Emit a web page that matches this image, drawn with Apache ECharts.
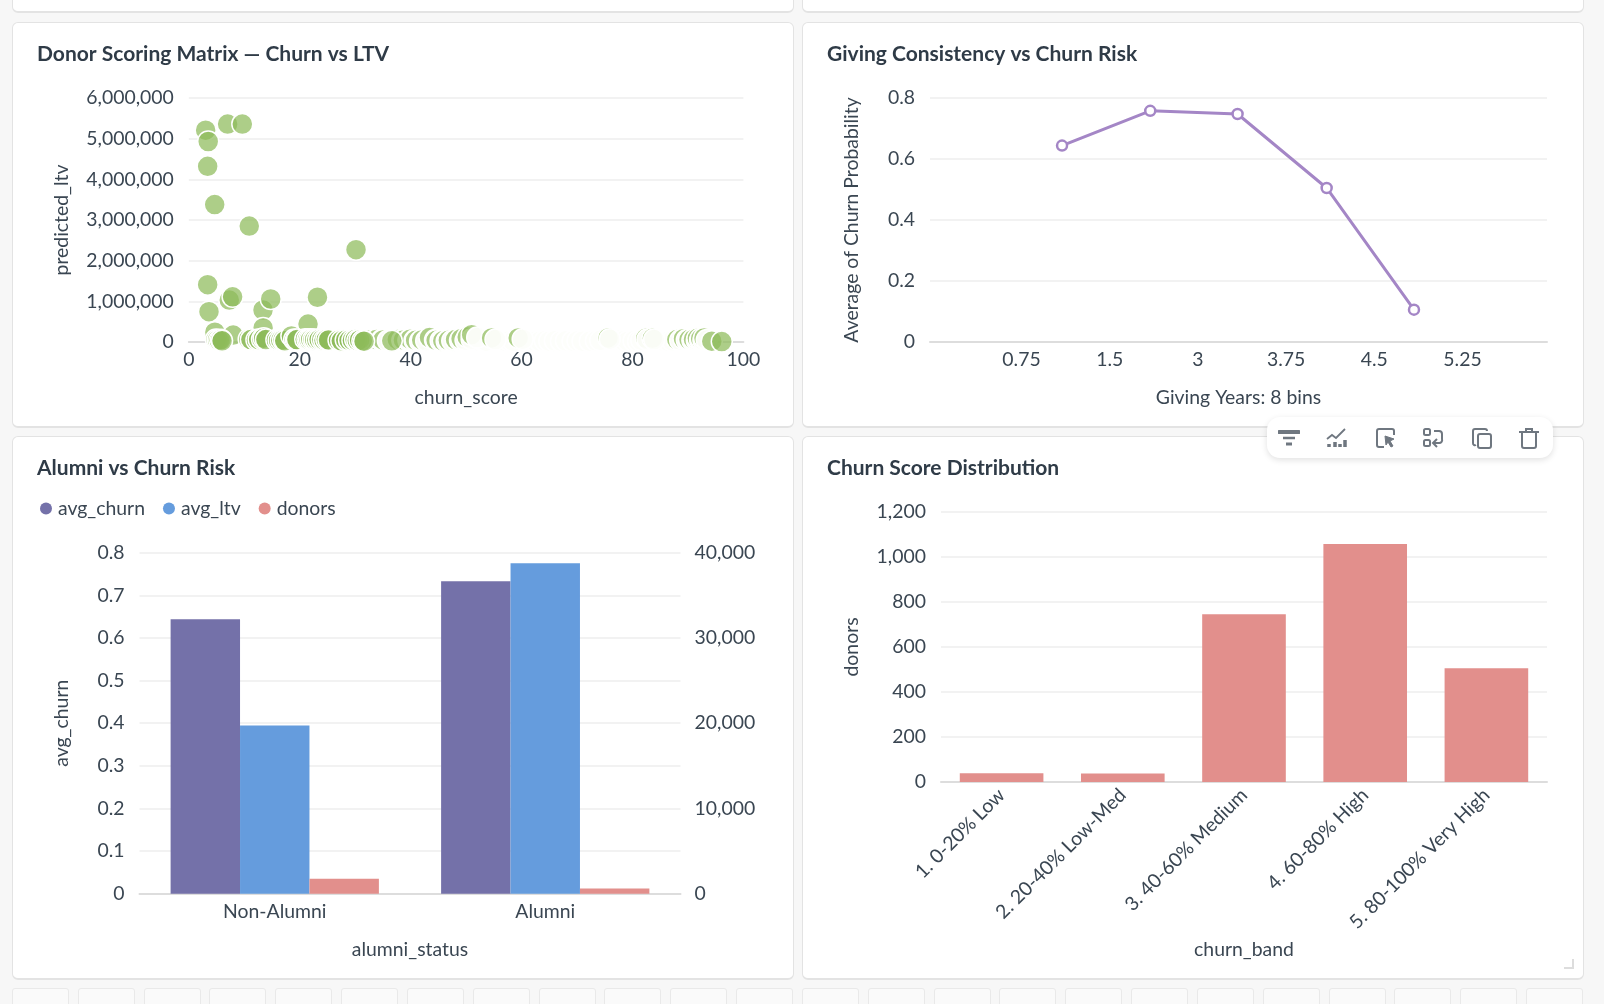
<!DOCTYPE html>
<html>
<head>
<meta charset="utf-8">
<title>Donor dashboard</title>
<script src="https://cdn.jsdelivr.net/npm/echarts@6/dist/echarts.min.js"></script>
<style>
html, body { margin: 0; width: 1604px; height: 1004px; overflow: hidden; background: #f7f7f7; }
.panel { position: absolute; box-sizing: border-box; background: #fff; border: 1px solid #e3e3e3; border-bottom-width: 2px; border-radius: 6px; }
.tile { position: absolute; top: 988px; width: 57px; height: 40px; box-sizing: border-box; border: 1px solid #e9e9e9; border-radius: 3px; background: #fafafa; }
.grip { position: absolute; left: 1564px; top: 959px; width: 10px; height: 10px; box-sizing: border-box; border-right: 2px solid #ddd; border-bottom: 2px solid #ddd; }
#toolbar { position: absolute; left: 1267px; top: 417px; width: 286px; height: 41px; background: #fff; border-radius: 13px; box-shadow: 0 2px 6px rgba(0,0,0,.12); }
#toolbar svg { position: absolute; top: 10px; width: 22px; height: 22px; fill: none; stroke: #6f7780; stroke-width: 2; }
</style>
</head>
<body>
<div class="panel" style="left:12px;top:-20px;width:782px;height:33px"></div>
<div class="panel" style="left:802px;top:-20px;width:782px;height:33px"></div>
<div class="panel" id="scatter" style="left:12px;top:22px;width:782px;height:406px"></div>
<div class="panel" id="line" style="left:802px;top:22px;width:782px;height:406px"></div>
<div class="panel" id="alumni" style="left:12px;top:436px;width:782px;height:544px"></div>
<div class="panel" id="bands" style="left:802px;top:436px;width:782px;height:544px"></div>
<div class="grip"></div>
<div id="toolbar">
	<svg style="left:11px" viewBox="0 0 22 22"><path d="M1 5h20" stroke-width="4" stroke-linecap="round"/><path d="M5 11h12" stroke-width="2.5"/><path d="M8 17h6" stroke-width="3"/></svg>
	<svg style="left:59px" viewBox="0 0 22 22"><path d="M1 12l5-4 4 3 9-9" stroke-width="1.8"/><path d="M3 17v3M9 15v5M14 17v3M19 13v7" stroke-width="3.5"/></svg>
	<svg style="left:108px" viewBox="0 0 22 22"><path d="M9 20H4a2 2 0 0 1-2-2V4a2 2 0 0 1 2-2h13a2 2 0 0 1 2 2v4" stroke-width="2"/><path d="M10 9l9 3-4 2 3 5-2 1-3-5-2 3z" fill="#6f7780" stroke-width="1"/></svg>
	<svg style="left:155px" viewBox="0 0 22 22"><rect x="2" y="2" width="6" height="6" rx="1.5"/><rect x="2" y="13" width="6" height="6" rx="1.5"/><path d="M12 4h5a3 3 0 0 1 3 3v5a3 3 0 0 1-3 4h-5"/><path d="M15 12l-4 4 4 4"/></svg>
	<svg style="left:204px" viewBox="0 0 22 22"><path d="M5 18a2 2 0 0 1-3-2V4a2 2 0 0 1 2-2h10a2 2 0 0 1 2 2"/><rect x="7" y="7" width="13" height="14" rx="2"/></svg>
	<svg style="left:251px" viewBox="0 0 22 22"><path d="M1 5h20M8 5V2h6v3"/><path d="M4 5v14a2 2 0 0 0 2 2h10a2 2 0 0 0 2-2V5"/></svg>
</div>
<script>
// scatter, back to front
var paleFarPoints = [[50.6,60000],[52.3,30000],[52.9,40000],[53.6,20000],[55.9,40000],[56.3,30000],[57,20000],[57.8,30000],[58.5,20000],[61,40000],[61.7,30000],[62.4,20000],[63.3,20000],[64.2,30000],[65,20000],[66,30000],[67.1,20000],[68,30000],[69.2,20000],[70.1,30000],[71,20000],[72.3,20000],[73.4,30000],[74.2,40000],[76.8,40000],[77.6,50000],[78.4,30000],[79.2,20000],[80.2,30000],[81,20000],[81.6,40000],[84.8,30000],[85.6,20000],[86.4,20000],[87.2,30000]];
// green then pale, in turn, so each pale point leaves a crescent of the green one
var crescentPoints = [
	[32.6,50000],[33.6,40000],[33.8,60000],[34.7,40000],[35,50000],[35.9,30000],[37.6,60000],[38.5,40000],
	[38.7,50000],[39.6,40000],[39.9,70000],[40.7,40000],[40.9,40000],[41.7,20000],[42,50000],[42.8,30000],
	[43.4,110000],[44.4,50000],[44.6,40000],[45.4,30000],[45.8,30000],[46.5,20000],[46.8,40000],[47.5,30000],
	[48.1,60000],[48.9,40000],[49.1,80000],[49.9,40000],[50.2,120000],[51,70000],[51,180000],[52,110000],
	[54.6,100000],[55.3,60000],[59.4,100000],[60.2,70000],[75.6,100000],[75.9,70000],[82.4,90000],[82.7,60000],
	[83.6,90000],[83.9,60000],[88,60000],[88.6,40000],[89.2,80000],[89.8,50000],[90.2,60000],[90.8,40000],
	[91,70000],[91.6,40000],[91.7,90000],[92.2,50000],[92.3,80000],[92.8,40000],[92.9,100000],[93.4,50000]
];
var frontPoints = [[3.04,5210000],[3.5,4930000],[7,5360000],[9.65,5360000],[3.4,4320000],[4.67,3380000],[10.9,2850000],[30.15,2270000],[3.4,1410000],[3.64,745000],[7.3,1030000],[7.9,1110000],[13.38,787000],[14.77,1057000],[23.2,1100000],[21.5,440000],[13.4,344000],[4.7,240000],[8,170000],[4.9,60000],[5.2,50000],[5.5,40000],[5.8,55000],[6,30000],[10.8,70000],[11.2,60000],[12.2,50000],[12.6,60000],[13.2,70000],[13.5,90000],[13.9,60000],[15.8,50000],[16.2,40000],[16.6,45000],[17,50000],[17.3,30000],[18.5,150000],[19,60000],[19.3,50000],[19.5,60000],[21,70000],[21.4,60000],[21.7,55000],[22,65000],[22.4,60000],[22.7,55000],[23.1,50000],[23.5,60000],[24,55000],[24.4,45000],[24.8,60000],[25.2,50000],[27,40000],[27.5,30000],[28.3,50000],[28.9,40000],[29.5,45000],[30,60000],[30.4,35000],[30.8,50000],[31.3,30000],[31.6,20000],[36.6,30000],[94.3,20000],[96.1,10000]];

// giving line
var givingBinPositions = [1.46, 2.46, 3.45, 4.46, 5.45];
var avgChurnProbability = [0.644, 0.758, 0.7475, 0.505, 0.106];
var givingTickPositions = [1, 2, 3, 4, 5, 6];
var givingTickLabels = ['0.75', '1.5', '3', '3.75', '4.5', '5.25'];

// alumni bars
var alumniStatus = ['Non-Alumni', 'Alumni'];
var avgChurn = [0.6436, 0.733];
var avgLtv = [19720, 38750];
var donorsByStatus = [1760, 600];

// churn bands
var churnBands = ['1. 0-20% Low', '2. 20-40% Low-Med', '3. 40-60% Medium', '4. 60-80% High', '5. 80-100% Very High'];
var donorsByBand = [39, 38, 746, 1058, 506];

var FONT = 'Lato';
var TEXT = '#3a4652';
var TICK_SIZE = 19.4;
var GREEN = 'rgba(141,187,90,0.72)';
var PALE = 'rgba(253,254,251,0.96)';

function thousands(v) {
	return echarts.format.addCommas(v);
}

function title(text) {
	return { text: text, left: 24, top: 21, padding: 0, textStyle: { fontFamily: FONT, fontSize: 21, fontWeight: 'bold', color: '#2f3b47' } };
}

function leftLabels(formatter) {
	return { fontFamily: FONT, fontSize: TICK_SIZE, color: TEXT, margin: 15, formatter: formatter };
}

function valueAxis(name, gap, extra) {
	var axis = {
		type: 'value',
		name: name,
		nameLocation: 'middle',
		nameGap: gap,
		nameMoveOverlap: false,
		nameTextStyle: { fontFamily: FONT, fontSize: TICK_SIZE, color: TEXT },
		axisLabel: leftLabels(),
		axisLine: { show: false },
		axisTick: { show: false },
		splitLine: { lineStyle: { color: '#eeeeee', width: 1.5 } }
	};
	for (var k in extra) { axis[k] = extra[k]; }
	return axis;
}

function bottomAxis(base, name, gap, extra) {
	var axis = {
		type: base,
		name: name,
		nameLocation: 'middle',
		nameGap: gap,
		nameMoveOverlap: false,
		nameTextStyle: { fontFamily: FONT, fontSize: TICK_SIZE, color: TEXT },
		axisLabel: { fontFamily: FONT, fontSize: TICK_SIZE, color: TEXT, margin: 8 },
		axisLine: { show: true, lineStyle: { color: '#dddddd', width: 2 } },
		axisTick: { show: false },
		splitLine: { show: false }
	};
	for (var k in extra) { axis[k] = extra[k]; }
	return axis;
}

function scatterSeries(points, color) {
	return {
		type: 'scatter',
		data: points,
		symbolSize: 21,
		itemStyle: { color: color, opacity: 1, borderColor: '#fff', borderWidth: 1.5 }
	};
}

var scatterChart = echarts.init(document.getElementById('scatter'));
scatterChart.setOption({
	animation: false,
	title: title('Donor Scoring Matrix — Churn vs LTV'),
	grid: { left: 175.8, top: 75, width: 554.6, height: 244 },
	xAxis: bottomAxis('value', 'churn_score', 46, { min: 0, max: 100, interval: 20 }),
	yAxis: valueAxis('predicted_ltv', 118, { min: 0, max: 6000000, interval: 1000000, axisLabel: leftLabels(thousands) }),
	series: [
		scatterSeries(paleFarPoints, PALE),
		scatterSeries(crescentPoints, function(p) { return p.dataIndex % 2 ? PALE : GREEN; }),
		scatterSeries(frontPoints, GREEN)
	]
});

var lineChart = echarts.init(document.getElementById('line'));
lineChart.setOption({
	animation: false,
	title: title('Giving Consistency vs Churn Risk'),
	grid: { left: 127, top: 75, width: 617, height: 244 },
	xAxis: bottomAxis('value', 'Giving Years: 8 bins', 46, {
		min: -0.037,
		max: 6.958,
		axisLabel: {
			fontFamily: FONT, fontSize: TICK_SIZE, color: TEXT, margin: 8,
			customValues: givingTickPositions,
			formatter: function(v) { return givingTickLabels[givingTickPositions.indexOf(v)]; }
		}
	}),
	yAxis: valueAxis('Average of Churn Probability', 69, { min: 0, max: 0.8, interval: 0.2 }),
	series: [{
		type: 'line',
		data: givingBinPositions.map(function(x, i) { return [x, avgChurnProbability[i]]; }),
		symbol: 'circle',
		symbolSize: 10,
		showAllSymbols: true,
		lineStyle: { color: '#a486c6', width: 3 },
		itemStyle: { color: '#fff', borderColor: '#a486c6', borderWidth: 2.5 }
	}]
});

var alumniChart = echarts.init(document.getElementById('alumni'));
alumniChart.setOption({
	animation: false,
	title: title('Alumni vs Churn Risk'),
	legend: {
		left: 27,
		top: 62,
		padding: 0,
		icon: 'circle',
		itemWidth: 12,
		itemHeight: 12,
		itemGap: 18,
		textStyle: { fontFamily: FONT, fontSize: TICK_SIZE, color: TEXT, padding: [0, 0, 0, 1] }
	},
	grid: { left: 126.5, top: 115.7, width: 541, height: 341 },
	xAxis: bottomAxis('category', 'alumni_status', 47, { data: alumniStatus, axisLabel: { fontFamily: FONT, fontSize: TICK_SIZE, color: TEXT, margin: 9 } }),
	yAxis: [
		valueAxis('avg_churn', 68, { min: 0, max: 0.8, interval: 0.1 }),
		{
			type: 'value',
			min: 0,
			max: 40000,
			interval: 10000,
			position: 'right',
			axisLabel: { fontFamily: FONT, fontSize: TICK_SIZE, color: TEXT, margin: 14, formatter: thousands },
			axisLine: { show: false },
			axisTick: { show: false },
			splitLine: { show: false }
		}
	],
	series: [
		{ name: 'avg_churn', type: 'bar', data: avgChurn, yAxisIndex: 0, barGap: 0, barCategoryGap: '23%', itemStyle: { color: '#7471a9' } },
		{ name: 'avg_ltv', type: 'bar', data: avgLtv, yAxisIndex: 1, itemStyle: { color: '#659cdd' } },
		{ name: 'donors', type: 'bar', data: donorsByStatus, yAxisIndex: 1, itemStyle: { color: '#e28f8c' } }
	]
});

var bandsChart = echarts.init(document.getElementById('bands'));
bandsChart.setOption({
	animation: false,
	title: title('Churn Score Distribution'),
	grid: { left: 138, top: 75, width: 606, height: 270 },
	xAxis: bottomAxis('category', 'churn_band', 158, {
		data: churnBands,
		axisLabel: { fontFamily: FONT, fontSize: TICK_SIZE, color: TEXT, margin: 10, rotate: 45, interval: 0 }
	}),
	yAxis: valueAxis('donors', 80, { min: 0, max: 1200, interval: 200, axisLabel: leftLabels(thousands) }),
	series: [{ type: 'bar', data: donorsByBand, barCategoryGap: '31%', itemStyle: { color: '#e28f8c' } }]
});

// rest of the dashboard grid behind the charts
for (var t = 0; t < 24; t++) {
	var tile = document.createElement('div');
	tile.className = 'tile';
	tile.style.left = (12 + t * 65.83) + 'px';
	document.body.appendChild(tile);
}
</script>
</body>
</html>
